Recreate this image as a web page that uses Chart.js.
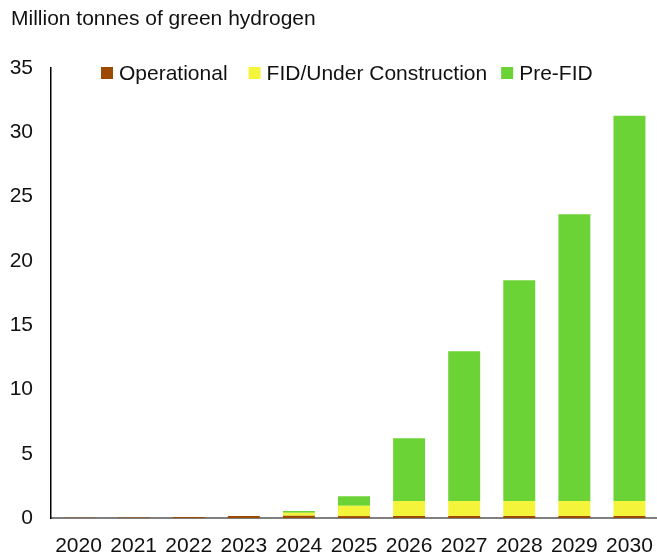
<!DOCTYPE html>
<html>
<head>
<meta charset="utf-8">
<script src="https://cdn.jsdelivr.net/npm/chart.js@4/dist/chart.umd.min.js"></script>
<style>
  html, body { margin: 0; padding: 0; background: #fff; }
  #wrap { width: 657px; height: 555px; position: relative; }
</style>
</head>
<body>
<div id="wrap"><canvas id="c"></canvas></div>
<script>
// Years on the horizontal axis
const years = ['2020', '2021', '2022', '2023', '2024', '2025', '2026', '2027', '2028', '2029', '2030'];

// Green hydrogen capacity by project status (million tonnes)
const operational = [0.02, 0.03, 0.08, 0.15, 0.18, 0.15, 0.15, 0.15, 0.15, 0.15, 0.15];
const fidUnderConstruction = [0, 0, 0, 0, 0.23, 0.8, 1.17, 1.17, 1.17, 1.17, 1.17];
const preFid = [0, 0, 0, 0, 0.13, 0.74, 4.88, 11.64, 17.18, 22.3, 29.97];

const seriesNames = ['Operational', 'FID/Under Construction', 'Pre-FID'];
const yTicks = [0, 5, 10, 15, 20, 25, 30, 35];
const yTitle = 'Million tonnes of green hydrogen';

const FONT = 'Liberation Sans, Arial, Helvetica, sans-serif';
const FONT_SIZE = 21;
const TEXT = '#111111';

// Axis caption drawn above the plot in the top-left corner
const captionPlugin = {
  id: 'caption',
  afterDraw(chart) {
    const ctx = chart.ctx;
    ctx.save();
    ctx.font = FONT_SIZE + 'px ' + FONT;
    ctx.fillStyle = TEXT;
    ctx.textBaseline = 'middle';
    ctx.textAlign = 'left';
    ctx.fillText(yTitle, 11, 19);
    ctx.restore();
  }
};

// Single-row legend inside the top of the plot
const inlineLegend = {
  id: 'inlineLegend',
  afterDraw(chart) {
    const ctx = chart.ctx;
    const ds = chart.data.datasets;
    ctx.save();
    ctx.font = FONT_SIZE + 'px ' + FONT;
    ctx.textBaseline = 'middle';
    ctx.textAlign = 'left';
    const box = 12, gapText = 6;
    const gaps = [21, 14];
    let x = 101;
    const y = 73;
    ds.forEach((d, i) => {
      const w = ctx.measureText(d.label).width;
      ctx.fillStyle = d.backgroundColor;
      ctx.fillRect(x, y - box / 2, box, box);
      ctx.fillStyle = TEXT;
      ctx.fillText(d.label, x + box + gapText, y + 1);
      x += box + gapText + w + (gaps[i] || 0);
    });
    ctx.restore();
  }
};

const colors = ['#9C4A00', '#F4F43A', '#6BD335'];
const values = [operational, fidUnderConstruction, preFid];

new Chart(document.getElementById('c'), {
  type: 'bar',
  data: {
    labels: years,
    datasets: values.map((v, i) => ({
      label: seriesNames[i],
      data: v,
      backgroundColor: colors[i],
      borderWidth: 0,
      categoryPercentage: 1.0,
      barPercentage: 0.58
    }))
  },
  options: {
    responsive: true,
    maintainAspectRatio: false,
    animation: false,
    devicePixelRatio: 1,
    layout: { padding: { top: 68, right: 0, left: 0, bottom: 0 } },
    plugins: {
      legend: { display: false },
      title: { display: false },
      tooltip: { enabled: false }
    },
    scales: {
      x: {
        stacked: true,
        grid: { display: false, drawTicks: false },
        border: { display: true, color: '#7f7f7f', width: 2 },
        ticks: { color: TEXT, font: { family: FONT, size: FONT_SIZE }, padding: 16, maxRotation: 0, autoSkip: false },
        afterFit(scale) {
          scale.height = 37;
          scale.paddingLeft = 0;
          scale.paddingRight = 0;
        }
      },
      y: {
        stacked: true,
        min: 0,
        max: 35,
        afterBuildTicks(scale) { scale.ticks = yTicks.map(v => ({ value: v })); },
        grid: { display: false, drawTicks: false },
        border: { display: true, color: '#000000', width: 1.5 },
        ticks: { color: TEXT, font: { family: FONT, size: FONT_SIZE }, padding: 18 },
        afterFit(scale) {
          scale.width = 51;
          scale.paddingTop = 0;
          scale.paddingBottom = 0;
        }
      }
    }
  },
  plugins: [captionPlugin, inlineLegend]
});
</script>
</body>
</html>
